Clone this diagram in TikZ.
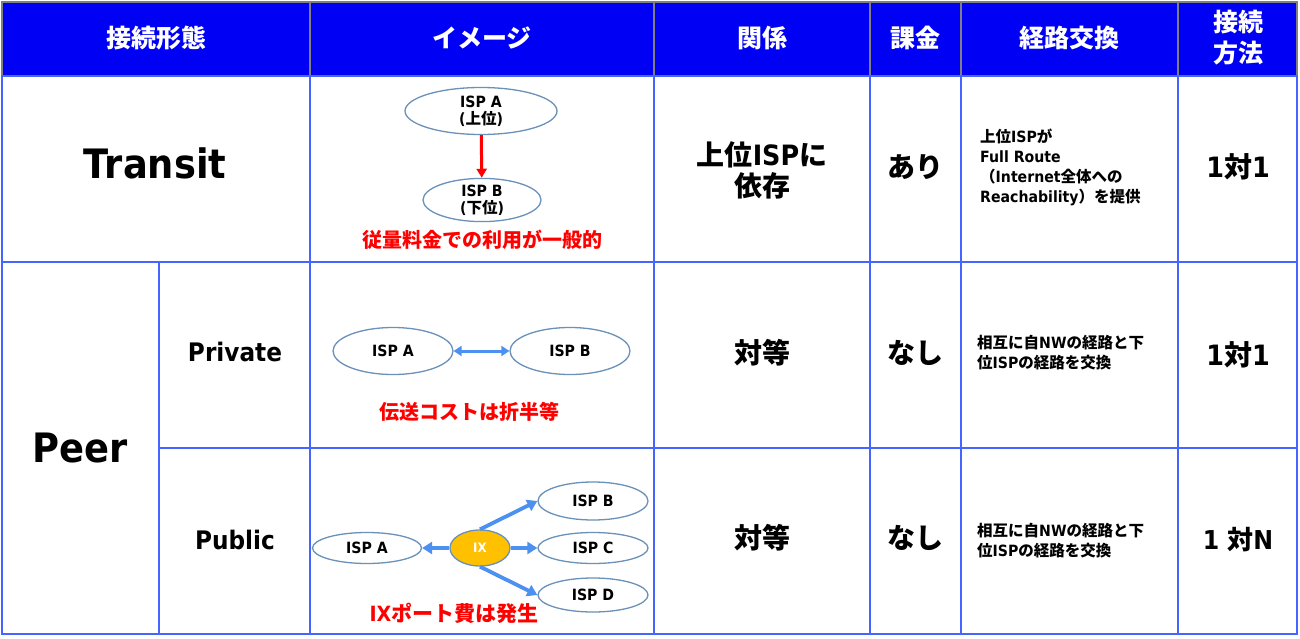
\documentclass[tikz,border=0pt]{standalone}
\usepackage{fontspec}
\setmainfont{Noto Sans CJK JP}
\newfontfamily\lat{DejaVu Sans}[FakeStretch=0.91]
\usetikzlibrary{arrows.meta,shapes.geometric}
\definecolor{hdr}{RGB}{0,0,245}
\definecolor{gridc}{RGB}{70,100,255}
\definecolor{hgray}{RGB}{128,128,128}
\definecolor{ellc}{RGB}{105,145,185}
\definecolor{arrb}{RGB}{77,145,240}
\definecolor{ixc}{RGB}{255,192,0}
\newcommand{\la}[1]{{\lat #1}}
\begin{document}
\begin{tikzpicture}[x=1pt,y=-1pt,
  hline/.style={draw=hgray,line width=1.5pt},
  gline/.style={draw=gridc,line width=1.6pt},
  hd/.style={text=white,font=\bfseries\fontsize{25}{31}\selectfont,align=center,inner sep=0pt},
  bigt/.style={font=\bfseries\fontsize{40.5}{46}\selectfont,inner sep=0pt},
  midt/.style={font=\bfseries\fontsize{25.5}{28}\selectfont,inner sep=0pt},
  cell/.style={font=\bfseries\fontsize{28}{30}\selectfont,align=center,inner sep=0pt},
  onet/.style={font=\bfseries\fontsize{26}{30}\selectfont,align=center,inner sep=0pt},
  small/.style={font=\bfseries\fontsize{15.5}{20}\selectfont,align=left,anchor=west,inner sep=0pt},
  redl/.style={text=red,font=\bfseries\fontsize{20}{24}\selectfont,inner sep=0pt},
  isp/.style={ellipse,draw=ellc,line width=1.3pt,fill=white,inner sep=0pt,align=center,font=\bfseries\fontsize{15.5}{17}\selectfont},
  rarr/.style={draw=red,line width=3pt,-{Triangle[length=9pt,width=10pt]}},
  barr/.style={draw=arrb,line width=3.8pt,-{Triangle[length=10pt,width=12pt]}},
  darr/.style={draw=arrb,line width=3pt,{Triangle[length=8pt,width=10pt]}-{Triangle[length=8pt,width=10pt]}}
]
\useasboundingbox (0,0) rectangle (1300,639);
\fill[white] (0,0) rectangle (1300,639);
% header
\fill[hdr] (2,2) rectangle (1297,76);
\draw[hline] (2,2) rectangle (1297,76);
\foreach \x in {310,654,870,961,1178} \draw[hline] (\x,2) -- (\x,76);
% grid
\draw[gline] (2,76) rectangle (1297,634);
\draw[gline] (2,262) -- (1297,262);
\draw[gline] (159,448) -- (1297,448);
\draw[gline] (159,262) -- (159,634);
\foreach \x in {310,654,870,961,1178} \draw[gline] (\x,76) -- (\x,634);
% header texts
\node[hd] (h1) at (156,38) {接続形態};
\node[hd] (h2) at (482,38) {イメージ};
\node[hd] (h3) at (762,38) {関係};
\node[hd] (h4) at (915,38) {課金};
\node[hd] (h5) at (1069,38) {経路交換};
\node[hd] (h6) at (1238,38) {接続\\方法};
% Transit row
\node[bigt] (tr) at (155,163) {\la{Transit}};
\node[isp,minimum width=152,minimum height=47] (ta) at (481,111) {\la{ISP A}\\\la{(}上位\la{)}};
\node[isp,minimum width=118,minimum height=43] (tb) at (482,200) {\la{ISP B}\\\la{(}下位\la{)}};
\draw[rarr] (ta) -- (tb);
\node[redl] (tl) at (482,240) {従量料金での利用が一般的};
\node[cell,font=\bfseries\fontsize{28}{31}\selectfont] (trel) at (762,170) {上位\la{ISP}に\\依存};
\node[cell] (tfee) at (915,167) {あり};
\node[small] (troute) at (980,167) {上位\la{ISP}が\\\la{Full Route}\\（\la{Internet}全体への\\\la{Reachability}）を提供};
\node[onet,font=\bfseries\fontsize{28}{30}\selectfont] (tcon) at (1238,167) {\la{1}対\la{1}};
% Peer
\node[bigt] (peer) at (80,448) {\la{Peer}};
% Private row
\node[midt] (pv) at (235,352) {\la{Private}};
\node[isp,minimum width=120,minimum height=47] (pa) at (393,351) {\la{ISP A}};
\node[isp,minimum width=120,minimum height=47] (pb) at (570,351) {\la{ISP B}};
\draw[darr] (pa) -- (pb);
\node[redl] (pl) at (469,412) {伝送コストは折半等};
\node[cell] (prel) at (762,353) {対等};
\node[cell] (pfee) at (915,353) {なし};
\node[small] (proute) at (977,353) {相互に自\la{NW}の経路と下\\位\la{ISP}の経路を交換};
\node[onet,font=\bfseries\fontsize{28}{30}\selectfont] (pcon) at (1238,355) {\la{1}対\la{1}};
% Public row
\node[midt] (pu) at (235,540) {\la{Public}};
\node[isp,minimum width=60,minimum height=36,fill=ixc,font=\bfseries\fontsize{13}{15}\selectfont,text=white] (ix) at (480,548) {\la{IX}};
\node[isp,minimum width=109,minimum height=31] (ua) at (367,548) {\la{ISP A}};
\node[isp,minimum width=110,minimum height=38] (ub) at (593,501) {\la{ISP B}};
\node[isp,minimum width=110,minimum height=31] (uc) at (593,548) {\la{ISP C}};
\node[isp,minimum width=110,minimum height=34] (ud) at (593,595) {\la{ISP D}};
\draw[barr] (ix.west) -- (ua.east);
\draw[barr] (ix.east) -- (uc.west);
\draw[barr] (ix.north) -- (ub.west);
\draw[barr] (ix.south) -- (ud.west);
\node[redl,font=\bfseries\fontsize{21}{24}\selectfont] (ul) at (454,613) {\la{IX}ポート費は発生};
\node[cell] (urel) at (762,538) {対等};
\node[cell] (ufee) at (915,538) {なし};
\node[small] (uroute) at (977,541) {相互に自\la{NW}の経路と下\\位\la{ISP}の経路を交換};
\node[onet] (ucon) at (1238,540) {\la{1 }対\la{N}};
\end{tikzpicture}
\end{document}
